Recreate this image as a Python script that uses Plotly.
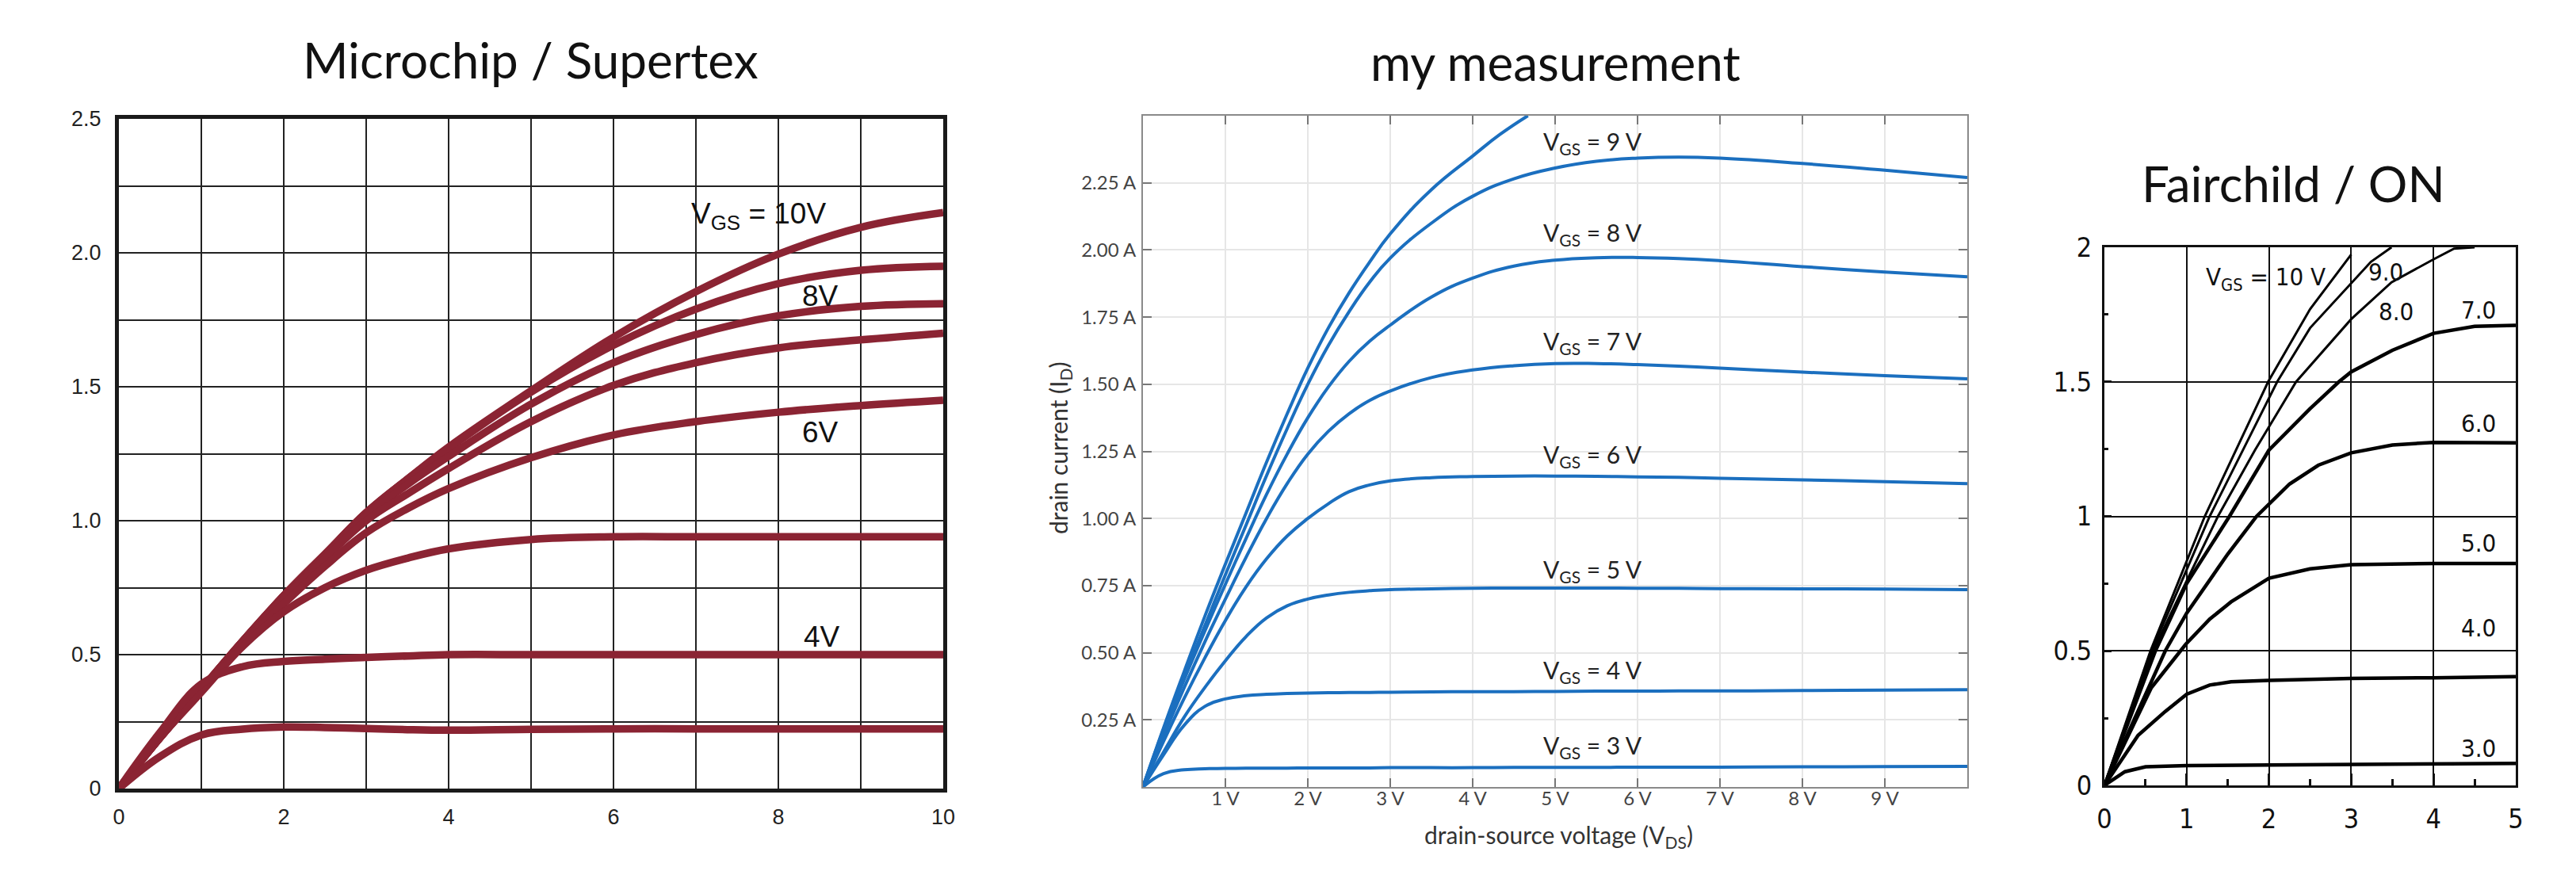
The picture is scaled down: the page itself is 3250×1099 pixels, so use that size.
import plotly.graph_objects as go

# ---------------- data ----------------
# Microchip / Supertex (left)
mc_vds = [0, 0.5, 1, 1.5, 2, 2.5, 3, 3.5, 4, 5, 6, 7, 8, 9, 10]
mc_curves = {
    "10V": [0, 0.19, 0.37, 0.55, 0.72, 0.875, 1.03, 1.155, 1.275, 1.485, 1.685, 1.855, 1.995, 2.095, 2.15],
    "9V": [0, 0.19, 0.37, 0.55, 0.72, 0.875, 1.03, 1.155, 1.27, 1.48, 1.655, 1.79, 1.885, 1.935, 1.95],
    "8V": [0, 0.19, 0.37, 0.55, 0.72, 0.875, 1.02, 1.135, 1.24, 1.435, 1.59, 1.695, 1.765, 1.80, 1.81],
    "7V": [0, 0.19, 0.37, 0.55, 0.71, 0.86, 1.00, 1.10, 1.195, 1.37, 1.505, 1.59, 1.645, 1.675, 1.70],
    "6V": [0, 0.19, 0.37, 0.54, 0.69, 0.83, 0.955, 1.045, 1.12, 1.235, 1.32, 1.37, 1.405, 1.43, 1.45],
    "5V": [0, 0.19, 0.36, 0.53, 0.66, 0.75, 0.815, 0.86, 0.895, 0.93, 0.94, 0.94, 0.94, 0.94, 0.94],
    "4V": [0, 0.21, 0.39, 0.455, 0.475, 0.483, 0.49, 0.495, 0.50, 0.50, 0.50, 0.50, 0.50, 0.50, 0.50],
    "3V": [0, 0.12, 0.20, 0.222, 0.23, 0.228, 0.224, 0.22, 0.218, 0.221, 0.223, 0.223, 0.223, 0.223, 0.223],
}
mc_labels = ["V<sub>GS</sub> = 10V", "8V", "6V", "4V"]
mc_label_x = [7.76, 8.51, 8.51, 8.53]
mc_label_y = [2.14, 1.84, 1.33, 0.566]
mc_xticks = [0, 2, 4, 6, 8, 10]
mc_yticks = [0, 0.5, 1.0, 1.5, 2.0, 2.5]
mc_yticktext = ["0", "0.5", "1.0", "1.5", "2.0", "2.5"]

# my measurement (middle)
my_vds = [0, 0.25, 0.5, 0.75, 1, 1.25, 1.5, 1.75, 2, 2.25, 2.5, 2.75, 3, 3.5, 4, 4.5,
          5, 5.5, 6, 6.5, 7, 8, 9, 10]
my_curves = {
    "9 V": [0, 0.215, 0.41, 0.60, 0.79, 0.975, 1.16, 1.335, 1.50, 1.645, 1.77, 1.88, 1.97,
            2.10, 2.20, 2.265, 2.305, 2.33, 2.342, 2.346, 2.342, 2.322, 2.297, 2.270],
    "8 V": [0, 0.205, 0.40, 0.58, 0.755, 0.925, 1.09, 1.24, 1.375, 1.49, 1.585, 1.66, 1.72,
            1.825, 1.895, 1.94, 1.962, 1.971, 1.972, 1.968, 1.960, 1.938, 1.918, 1.900],
    "7 V": [0, 0.19, 0.37, 0.54, 0.70, 0.855, 1.00, 1.13, 1.24, 1.325, 1.39, 1.44, 1.475,
            1.525, 1.553, 1.569, 1.577, 1.577, 1.573, 1.567, 1.560, 1.545, 1.532, 1.520],
    "6 V": [0, 0.17, 0.33, 0.48, 0.62, 0.745, 0.85, 0.935, 1.00, 1.055, 1.10, 1.125, 1.14,
            1.152, 1.156, 1.158, 1.158, 1.157, 1.155, 1.153, 1.150, 1.144, 1.137, 1.130],
    "5 V": [0, 0.13, 0.26, 0.37, 0.47, 0.56, 0.63, 0.675, 0.70, 0.715, 0.725, 0.731, 0.735,
            0.738, 0.740, 0.741, 0.741, 0.741, 0.740, 0.740, 0.739, 0.738, 0.737, 0.735],
    "4 V": [0, 0.12, 0.23, 0.30, 0.328, 0.34, 0.345, 0.348, 0.350, 0.351, 0.352, 0.352, 0.353,
            0.354, 0.355, 0.355, 0.356, 0.357, 0.357, 0.358, 0.358, 0.359, 0.361, 0.362],
    "3 V": [0, 0.05, 0.064, 0.068, 0.069, 0.070, 0.070, 0.070, 0.071, 0.071, 0.071, 0.071, 0.072,
            0.072, 0.072, 0.073, 0.073, 0.073, 0.074, 0.074, 0.074, 0.075, 0.076, 0.077],
}
# the 10 V sweep leaves the plot at the top
my_vds_10 = [0, 0.25, 0.5, 0.75, 1, 1.25, 1.5, 1.75, 2, 2.25, 2.5, 2.75, 3, 3.5, 4, 4.33, 4.67]
my_id_10 = [0, 0.22, 0.43, 0.635, 0.83, 1.02, 1.21, 1.39, 1.56, 1.71, 1.84, 1.955, 2.06,
            2.225, 2.35, 2.43, 2.5]
my_label_y = {"9 V": 2.40, "8 V": 2.06, "7 V": 1.655, "6 V": 1.235, "5 V": 0.805,
              "4 V": 0.43, "3 V": 0.15}
my_xticks = [1, 2, 3, 4, 5, 6, 7, 8, 9]
my_yticks = [0.25, 0.5, 0.75, 1.0, 1.25, 1.5, 1.75, 2.0, 2.25]

# Fairchild / ON (right), digitised as polylines
fc_curves = {
    "10": ([0, 0.56, 1.22, 1.6, 1.99, 2.5, 3.0],
           [0, 0.5, 1.0, 1.246, 1.5, 1.77, 1.973]),
    "9.0": ([0, 0.575, 1.28, 1.68, 2.1, 2.5, 3.0, 3.24, 3.49],
            [0, 0.5, 1.0, 1.246, 1.5, 1.70, 1.866, 1.946, 2.0]),
    "8.0": ([0, 0.59, 1.0, 1.38, 1.83, 2.33, 3.0, 3.49, 4.0, 4.25, 4.5],
            [0, 0.5, 0.76, 1.0, 1.246, 1.5, 1.733, 1.87, 1.955, 1.995, 2.0]),
    "7.0": ([0, 0.62, 1.0, 1.52, 2.0, 2.5, 2.85, 3.0, 3.5, 4, 4.5, 5],
            [0, 0.5, 0.75, 1.0, 1.246, 1.40, 1.5, 1.537, 1.617, 1.68, 1.706, 1.71]),
    "6.0": ([0, 0.74, 1.0, 1.5, 1.85, 2, 2.25, 2.6, 3, 3.5, 4, 5],
            [0, 0.5, 0.64, 0.86, 1.0, 1.045, 1.12, 1.19, 1.236, 1.265, 1.275, 1.273]),
    "5.0": ([0, 0.57, 0.99, 1.28, 1.54, 2, 2.5, 3, 4, 5],
            [0, 0.363, 0.525, 0.618, 0.682, 0.77, 0.805, 0.82, 0.825, 0.825]),
    "4.0": ([0, 0.41, 0.74, 1.0, 1.28, 1.54, 2, 3, 4, 5],
            [0, 0.186, 0.275, 0.339, 0.373, 0.385, 0.39, 0.398, 0.40, 0.404]),
    "3.0": ([0, 0.25, 0.5, 1, 2, 3, 4, 5],
            [0, 0.051, 0.069, 0.074, 0.076, 0.077, 0.079, 0.082]),
}
fc_labels = ["V<sub>GS</sub> = 10 V", "9.0", "8.0", "7.0", "6.0", "5.0", "4.0", "3.0"]
fc_label_x = [1.96, 3.42, 3.55, 4.55, 4.55, 4.55, 4.55, 4.55]
fc_label_y = [1.885, 1.91, 1.76, 1.767, 1.346, 0.90, 0.587, 0.138]

# ---------------- figure ----------------
W, H = 3250, 1099
RED = "#8b2433"
BLUE = "#1b6fbf"
NARROW = "DejaVu Sans Condensed, Liberation Sans, sans-serif"

fig = go.Figure()

for name, vals in mc_curves.items():
    fig.add_trace(go.Scatter(x=mc_vds, y=vals, mode="lines", name=name,
                             line=dict(color=RED, width=9.5, shape="spline", smoothing=1.1),
                             xaxis="x", yaxis="y", showlegend=False))

fig.add_trace(go.Scatter(x=my_vds_10, y=my_id_10, mode="lines", name="10 V",
                         line=dict(color=BLUE, width=4, shape="spline", smoothing=1.3),
                         xaxis="x2", yaxis="y2", showlegend=False))
for name, vals in my_curves.items():
    fig.add_trace(go.Scatter(x=my_vds, y=vals, mode="lines", name=name,
                             line=dict(color=BLUE, width=4, shape="spline", smoothing=1.3),
                             xaxis="x2", yaxis="y2", showlegend=False))

for name, (xs, ys) in fc_curves.items():
    thick = 4.5 if name in ("3.0", "4.0", "5.0", "6.0", "7.0") else 3
    fig.add_trace(go.Scatter(x=xs, y=ys, mode="lines", name=name,
                             line=dict(color="black", width=thick),
                             xaxis="x3", yaxis="y3", showlegend=False))

ann = []
# titles
title_font = dict(family="Lato", size=62, color="#111")
for txt, px, py in [("Microchip / Supertex", 661, 67), ("my measurement", 1954, 70),
                    ("Fairchild / ON", 2885, 223)]:
    ann.append(dict(text=txt, x=px / W, y=1 - py / H, xref="paper", yref="paper",
                    showarrow=False, font=title_font, xanchor="center", yanchor="middle"))

for txt, lx, ly in zip(mc_labels, mc_label_x, mc_label_y):
    ann.append(dict(text=txt, x=lx, y=ly, xref="x", yref="y", showarrow=False,
                    xanchor="center", yanchor="middle",
                    font=dict(family="Liberation Sans", size=37, color="#111")))

for name, ly in my_label_y.items():
    ann.append(dict(text="V<sub>GS</sub> = " + name, x=5.46, y=ly, xref="x2", yref="y2",
                    showarrow=False, xanchor="center", yanchor="middle",
                    font=dict(family="Lato", size=30, color="#222")))

for txt, lx, ly in zip(fc_labels, fc_label_x, fc_label_y):
    ann.append(dict(text=txt, x=lx, y=ly, xref="x3", yref="y3", showarrow=False,
                    xanchor="center", yanchor="middle",
                    font=dict(family=NARROW, size=31, color="#111")))

# axis titles of the middle plot
ann.append(dict(text="drain current (I<sub>D</sub>)", x=1329 / W, y=1 - 557 / H,
                xref="paper", yref="paper", showarrow=False, textangle=-90,
                xanchor="center", yanchor="middle",
                font=dict(family="Lato", size=30, color="#333")))
ann.append(dict(text="drain-source voltage (V<sub>DS</sub>)", x=1958 / W, y=1 - 1047 / H,
                xref="paper", yref="paper", showarrow=False,
                xanchor="center", yanchor="middle",
                font=dict(family="Lato", size=30, color="#333")))

mc_font = dict(family="Liberation Sans", size=27, color="#222")
my_font = dict(family="Lato", size=24, color="#444")
fc_font = dict(family=NARROW, size=34, color="#111")

fig.update_layout(
    width=W, height=H,
    margin=dict(l=0, r=0, t=0, b=0, autoexpand=False),
    paper_bgcolor="white", plot_bgcolor="white",
    annotations=ann,
    xaxis=dict(domain=[142 / W, 1182 / W], anchor="y", range=[0, 10], automargin=False,
               tickmode="array", tickvals=mc_xticks, ticktext=[str(v) for v in mc_xticks],
               showgrid=True, gridcolor="#222", gridwidth=1.6, zeroline=False,
               minor=dict(tick0=0, dtick=1, showgrid=True, gridcolor="#222", gridwidth=1.6),
               showline=True, linecolor="#1a1a1a", linewidth=5, mirror=True,
               ticks="", tickfont=mc_font, ticklabelstandoff=8),
    yaxis=dict(domain=[(H - 987) / H, (H - 142) / H], anchor="x", range=[0, 2.5],
               automargin=False,
               tickmode="array", tickvals=mc_yticks, ticktext=mc_yticktext,
               showgrid=True, gridcolor="#222", gridwidth=1.6, zeroline=False,
               minor=dict(tick0=0, dtick=0.25, showgrid=True, gridcolor="#222", gridwidth=1.6),
               showline=True, linecolor="#1a1a1a", linewidth=5, mirror=True,
               ticks="", tickfont=mc_font, ticklabelstandoff=12),
    xaxis2=dict(domain=[1434 / W, 2474 / W], anchor="y2", range=[0, 10], automargin=False,
                tickmode="array", tickvals=my_xticks,
                ticktext=[f"{v} V" for v in my_xticks],
                showgrid=True, gridcolor="#e6e6e6", gridwidth=1.5, zeroline=False,
                showline=True, linecolor="#8a8a8a", linewidth=2, mirror="ticks",
                ticks="inside", ticklen=11, tickwidth=2, tickcolor="#777",
                tickfont=my_font, ticklabelstandoff=-8),
    yaxis2=dict(domain=[(H - 985) / H, (H - 138) / H], anchor="x2", range=[0, 2.5],
                automargin=False,
                tickmode="array", tickvals=my_yticks,
                ticktext=[f"{v:.2f} A" for v in my_yticks],
                showgrid=True, gridcolor="#e6e6e6", gridwidth=1.5, zeroline=False,
                showline=True, linecolor="#8a8a8a", linewidth=2, mirror="ticks",
                ticks="inside", ticklen=11, tickwidth=2, tickcolor="#777",
                tickfont=my_font, ticklabelstandoff=2),
    xaxis3=dict(domain=[2647 / W, 3166 / W], anchor="y3", range=[0, 5], automargin=False,
                dtick=1, tick0=0,
                showgrid=True, gridcolor="#111", gridwidth=1.5, zeroline=False,
                showline=True, linecolor="#111", linewidth=3, mirror=True,
                ticks="inside", ticklen=15, tickwidth=3, tickcolor="#111",
                minor=dict(dtick=0.5, ticks="inside", ticklen=8, tickwidth=3,
                           tickcolor="#111", showgrid=False),
                tickfont=fc_font, ticklabelstandoff=10),
    yaxis3=dict(domain=[(H - 983) / H, (H - 304) / H], anchor="x3", range=[0, 2],
                automargin=False,
                dtick=0.5, tick0=0,
                showgrid=True, gridcolor="#111", gridwidth=1.5, zeroline=False,
                showline=True, linecolor="#111", linewidth=3, mirror=True,
                ticks="inside", ticklen=9, tickwidth=3, tickcolor="#111",
                minor=dict(dtick=0.25, ticks="inside", ticklen=5, tickwidth=3,
                           tickcolor="#111", showgrid=False),
                tickfont=fc_font, ticklabelstandoff=6),
)

fig.write_html("out.html")
